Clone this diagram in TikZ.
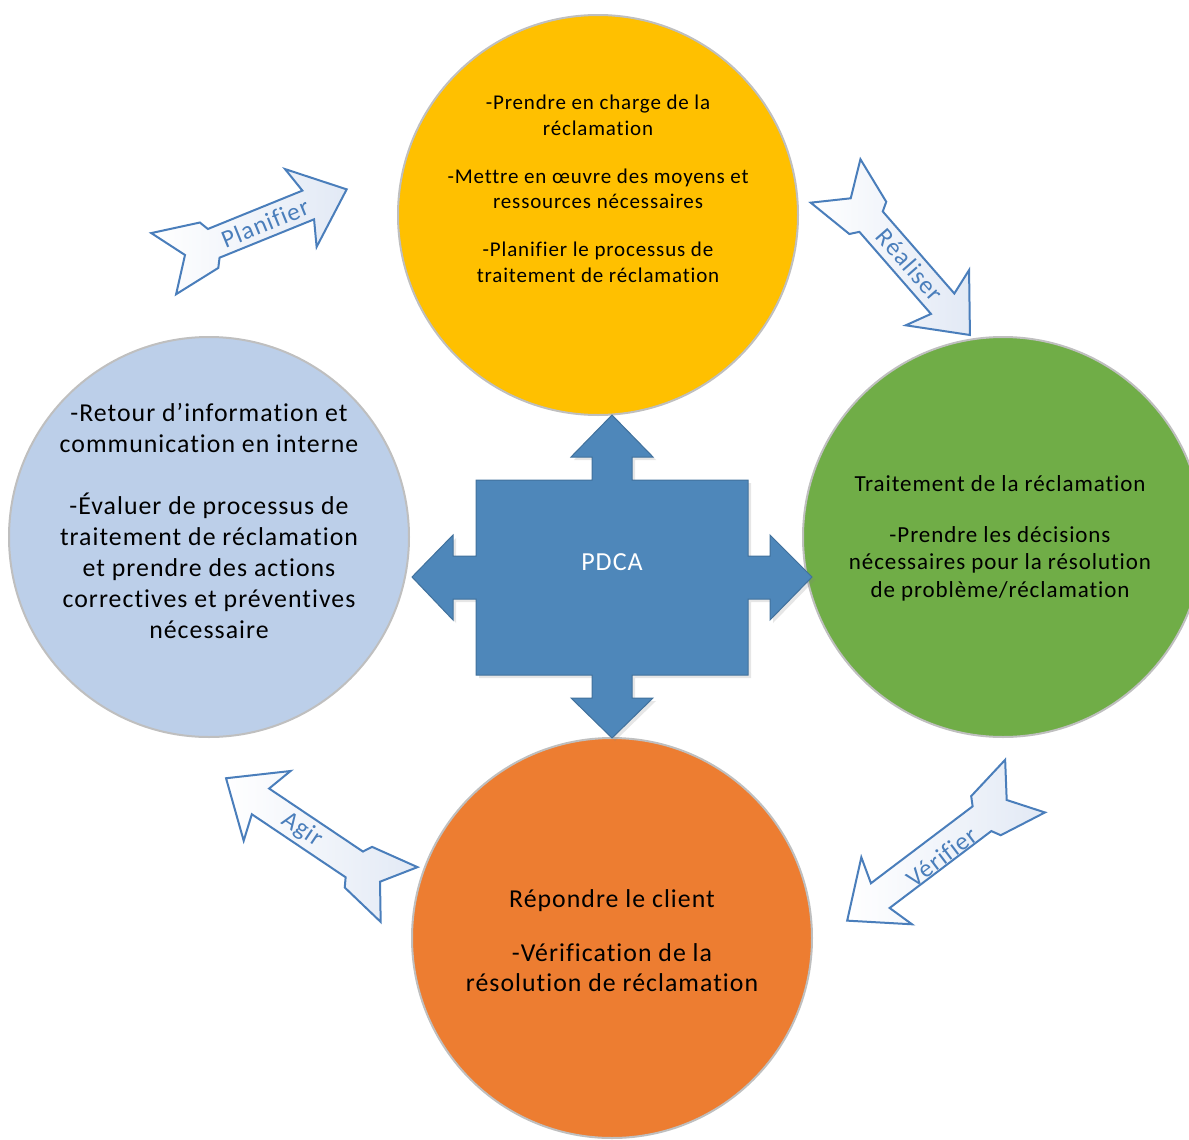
\documentclass[tikz,border=0pt]{standalone}
\usepackage{fontspec}
\setmainfont{Carlito}[LetterSpace=4, Ligatures=NoCommon]
\usetikzlibrary{shadows}

\definecolor{planY}{HTML}{FFC000}
\definecolor{doG}{HTML}{70AD47}
\definecolor{checkO}{HTML}{ED7D31}
\definecolor{actB}{HTML}{BCCFE9}
\definecolor{coreB}{HTML}{4E87BA}
\definecolor{coreEdge}{HTML}{41719C}
\definecolor{ringGray}{HTML}{BFBFBF}
\definecolor{arrowLine}{HTML}{4A7EBB}
\definecolor{arrowTint}{HTML}{E2E9F5}

\tikzset{
  x=0.5pt, y=0.5pt,
  phase/.style={circle, draw=ringGray, line width=1pt, minimum size=200pt, inner sep=0pt},
  phasetext/.style={align=center, text=black},
  arrowbody/.style={draw=arrowLine, line width=1pt, line join=miter,
                    left color=white, right color=arrowTint},
  lbl/.style={text=arrowLine, font=\fontsize{12.5}{15}\selectfont, inner sep=0pt},
  pics/fletch/.style={code={
    \path[arrowbody] (0,0) -- (-23,33) -- (26,24.5) -- (31,15.5)
      -- (#1-41.5,15.5) -- (#1-49.5,42) -- (#1,0) -- (#1-49.5,-42)
      -- (#1-41.5,-15.5) -- (31,-15.5) -- (26,-24.5) -- (-23,-33) -- cycle;
  }}
}

\begin{document}
\begin{tikzpicture}
\useasboundingbox (0,0) rectangle (1189,-1140);
\clip (0,0) rectangle (1189,-1140);

% the four phases of the cycle
\node[phase, fill=planY]  (plan)  at (598,-215) {};
\node[phase, fill=doG]    (do)    at (1003,-537) {};
\node[phase, fill=checkO] (check) at (612,-938) {};
\node[phase, fill=actB]   (act)   at (209,-537) {};

\node[phasetext, font=\fontsize{10.5}{12.75}\selectfont] (planT) at (598,-189)
  {-Prendre en charge de la\\ réclamation\\[11.25pt]
   -Mettre en œuvre des moyens et\\ ressources nécessaires\\[11.25pt]
   -Planifier le processus de\\ traitement de réclamation};

\node[phasetext, font=\fontsize{11.5}{13.75}\selectfont] (doT) at (1000,-538)
  {Traitement de la réclamation\\[11.75pt]
   -Prendre les décisions\\ nécessaires pour la résolution\\ de problème/réclamation};

\node[phasetext, font=\fontsize{12.9}{15}\selectfont] (checkT) at (612,-941)
  {Répondre le client\\[12pt]
   -Vérification de la\\ résolution de réclamation};

\node[phasetext, font=\fontsize{12.9}{15.5}\selectfont] (actT) at (209,-521)
  {-Retour d’information et\\ communication en interne\\[15.5pt]
   -Évaluer de processus de\\ traitement de réclamation\\ et prendre des actions\\
   correctives et préventives\\ nécessaire};

% central four-way arrow
\path[fill=coreB, draw=coreEdge, line width=0.5pt,
      drop shadow={opacity=0.2, shadow xshift=1.5pt, shadow yshift=-1.5pt}]
  (476,-480) -- (592,-480) -- (592,-457) -- (571,-457) -- (612,-415)
  -- (653,-457) -- (632,-457) -- (632,-480) -- (748,-480) -- (748,-556)
  -- (770,-556) -- (770,-535) -- (812,-577) -- (770,-620) -- (770,-599)
  -- (748,-599) -- (748,-675) -- (632,-675) -- (632,-698) -- (653,-698)
  -- (612,-738) -- (571,-698) -- (592,-698) -- (592,-675) -- (476,-675)
  -- (476,-599) -- (453,-599) -- (453,-620) -- (412,-577) -- (453,-535)
  -- (453,-556) -- (476,-556) -- cycle;
\node[text=white, font=\fontsize{13}{15}\selectfont] (core) at (612,-562) {PDCA};

% fletched arrows between the phases
\pic[rotate=22.1]   at (185,-255)    {fletch=174.5};
\pic[rotate=-48.9]  at (850.7,-198.3) {fletch=181.4};
\pic[rotate=217.1]  at (1006.7,-800) {fletch=200};
\pic[rotate=146.1]  at (380,-881.7)  {fletch=185.5};

\node[lbl, rotate=22.1]  (lP) at (265,-223) {Planifier};
\node[lbl, rotate=-48.9] (lR) at (910,-265) {Réaliser};
\node[lbl, rotate=37.1]  (lV) at (942,-857) {Vérifier};
\node[lbl, rotate=-33.9] (lA) at (302,-830) {Agir};
\end{tikzpicture}
\end{document}
